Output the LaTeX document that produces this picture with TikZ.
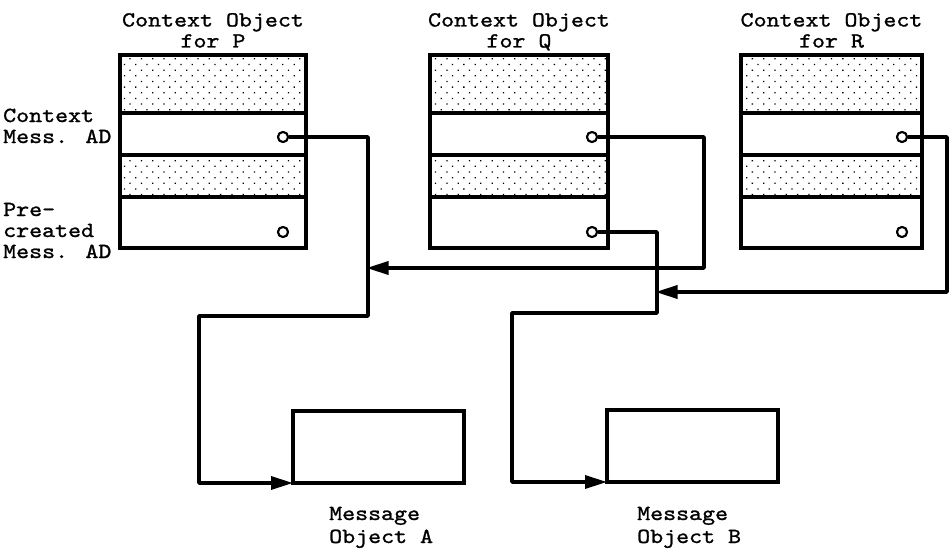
\documentclass[tikz,border=0pt]{standalone}
\usepackage{fontspec}
\newfontfamily\tw{lmmono10-regular.otf}[FakeBold=1.2, FakeStretch=1.15]
\usetikzlibrary{arrows.meta,patterns.meta}

\tikzset{
  lbl/.style={font=\tw\fontsize{21.5}{21}\selectfont, inner sep=0pt},
  msglbl/.style={font=\tw\fontsize{21.5}{23}\selectfont, inner sep=0pt},
  shaded/.style={draw, line width=3.4pt, inner sep=0pt, minimum width=#1,
    minimum height=42pt,
    pattern={Dots[distance=8pt, radius=0.9pt, angle=45]}},
  plain/.style={draw, line width=3.4pt, inner sep=0pt, minimum width=#1},
  port/.style={circle, draw, line width=2pt, fill=white, inner sep=0pt,
    minimum size=10pt},
  msgbox/.style={draw, line width=3.2pt, inner sep=0pt, outer sep=0pt,
    minimum width=171pt, minimum height=72pt},
  conn/.style={line width=3.4pt, line join=round},
  tip/.style={-{Triangle[length=22pt, width=13pt]}},
}

\begin{document}
\begin{tikzpicture}[x=1pt, y=-1pt]
\useasboundingbox (0,0) rectangle (950,551);

% context objects: two shaded and two address rows each
\foreach \n/\l/\r in {P/120/306, Q/430/608, R/741/922}{
  \pgfmathsetmacro\w{\r-\l}
  \pgfmathsetmacro\c{(\l+\r)/2}
  \node[shaded=\w pt, minimum height=58pt] (\n s1) at (\c,84) {};
  \node[plain=\w pt, minimum height=42pt]  (\n w1) at (\c,134) {};
  \node[shaded=\w pt, minimum height=42pt] (\n s2) at (\c,176) {};
  \node[plain=\w pt, minimum height=51pt]  (\n w2) at (\c,222.5) {};
  \node[lbl, align=center, anchor=base] (\n t) at (\c,47.5)
    {Context Object\\for \n};
}

% address descriptor ports
\node[port] (Pa) at (283,137) {};
\node[port] (Pb) at (283,232) {};
\node[port] (Qa) at (592,137) {};
\node[port] (Qb) at (592,232) {};
\node[port] (Ra) at (902,137) {};
\node[port] (Rb) at (902,232) {};

% row labels on the left
\node[lbl, align=left, anchor=base west] (L1) at (3,143) {Context\\Mess. AD};
\node[lbl, align=left, anchor=base west] (L2) at (3,258) {Pre-\\created\\Mess. AD};

% message objects
\node[msgbox] (MA) at (378.5,447) {};
\node[msgbox] (MB) at (692.5,446) {};
\node[msglbl, align=left, anchor=base west] (MAt) at (329,543) {Message\\Object A};
\node[msglbl, align=left, anchor=base west] (MBt) at (637,543) {Message\\Object B};

% junctions where incoming links meet the vertical runs
\coordinate (j1) at (368,268);
\coordinate (j2) at (657,292);

% links
\draw[conn, tip] (Pa.east) -- (368,137) -- (368,316) -- (199,316)
  |- (MA.south west);
\draw[conn, tip, shorten >=-1.5pt] (Qa.east) -- (704,137) -- (704,268) -- (j1);
\draw[conn, tip] (Qb.east) -- (657,232) -- (657,313) -- (512,313)
  |- (MB.south west);
\draw[conn, tip, shorten >=-1.5pt] (Ra.east) -- (947,137) -- (947,292) -- (j2);

% redraw ports on top of the link ends
\foreach \p in {Pa,Pb,Qa,Qb,Ra,Rb}{
  \node[port] at (\p) {};
}
\end{tikzpicture}
\end{document}
